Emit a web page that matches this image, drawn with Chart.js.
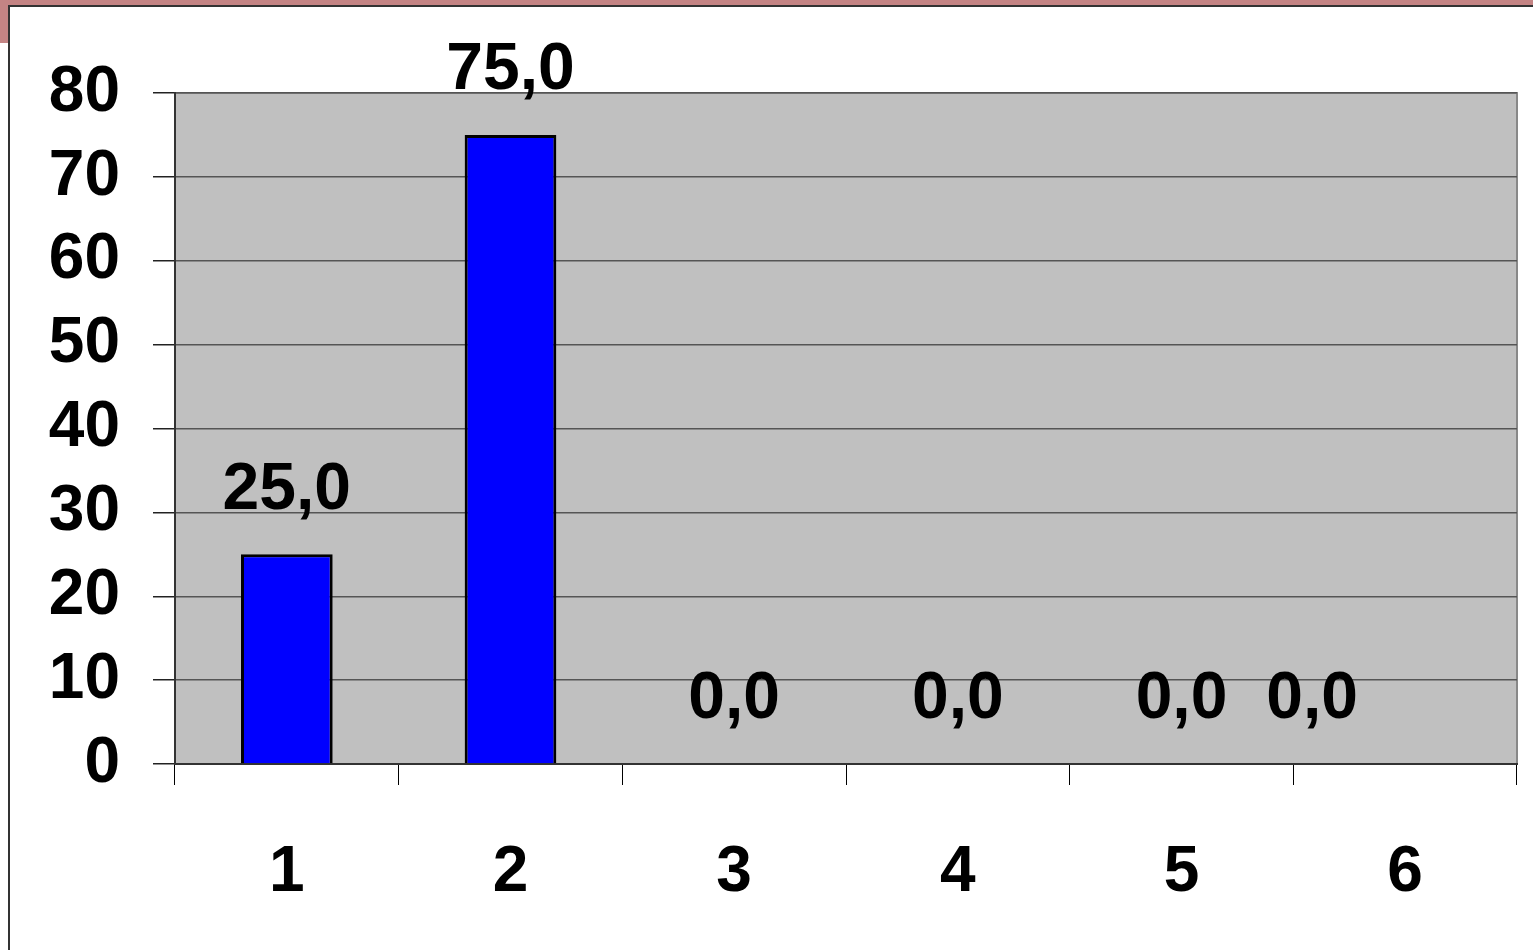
<!DOCTYPE html>
<html>
<head>
<meta charset="utf-8">
<script src="https://cdn.jsdelivr.net/npm/chart.js@4/dist/chart.umd.min.js"></script>
<style>
  body { margin: 0; background: #fff; width: 1533px; height: 950px; overflow: hidden; position: relative; }
  .band-top { position: absolute; left: 0; top: 0; width: 1533px; height: 5px; background: #c48484; }
  .band-left { position: absolute; left: 0; top: 0; width: 8px; height: 43px; background: #c48484; }
  .frame { position: absolute; left: 8px; top: 5px; width: 1525px; height: 945px; border-top: 2px solid #333; border-left: 2px solid #333; box-sizing: border-box; }
  #chart { position: absolute; left: 0; top: 0; }
</style>
</head>
<body>
<div class="band-top"></div>
<div class="band-left"></div>
<div class="frame"></div>
<canvas id="chart" width="1533" height="950"></canvas>
<script>
const categories = ['1', '2', '3', '4', '5', '6']
const values = [25, 75, 0, 0, 0, 0]
const yMin = 0
const yMax = 80
const yStep = 10

const font = { family: '"Liberation Sans", Arial, sans-serif', size: 64, weight: 'bold' }

// grey plot background and its frame
const plotBg = {
  id: 'plotBg',
  beforeDraw(chart) {
    const { ctx, chartArea: a } = chart
    ctx.save()
    ctx.fillStyle = '#c0c0c0'
    ctx.fillRect(a.left, a.top, a.right - a.left, a.bottom - a.top)
    ctx.strokeStyle = '#888'
    ctx.lineWidth = 2
    ctx.strokeRect(a.left, a.top, a.right - a.left, a.bottom - a.top)
    ctx.restore()
  }
}

// value labels above bars, "25,0" style
const valueLabels = {
  id: 'valueLabels',
  afterDatasetsDraw(chart, args, opts) {
    const { ctx } = chart
    const meta = chart.getDatasetMeta(0)
    ctx.save()
    ctx.font = 'bold 66px "Liberation Sans", Arial, sans-serif'
    ctx.fillStyle = '#000'
    ctx.textAlign = 'center'
    ctx.textBaseline = 'middle'
    meta.data.forEach((bar, i) => {
      const txt = values[i].toFixed(1).replace('.', ',')
      const dx = (opts.shift && opts.shift[i]) || 0
      ctx.fillText(txt, bar.x + dx, bar.y - 64)
    })
    ctx.restore()
  }
}

new Chart(document.querySelector('#chart'), {
  type: 'bar',
  data: {
    labels: categories,
    datasets: [{
      data: values,
      backgroundColor: '#0000ff',
      borderColor: '#000',
      borderWidth: 3,
      categoryPercentage: 1,
      barPercentage: 0.41
    }]
  },
  options: {
    responsive: false,
    animation: false,
    layout: { padding: { top: 93, right: 16, left: 0, bottom: 0 } },
    plugins: {
      legend: { display: false },
      tooltip: { enabled: false },
      valueLabels: { shift: { 5: -93 } }
    },
    scales: {
      x: {
        afterFit(scale) { scale.height = 186 },
        grid: { offset: true, drawOnChartArea: false, tickLength: 21, color: '#000', lineWidth: 1 },
        border: { color: '#333', width: 2 },
        ticks: { color: '#000', font: font, padding: 50, maxRotation: 0 }
      },
      y: {
        min: yMin,
        max: yMax,
        afterFit(scale) { scale.width = 175 },
        grid: { color: '#555', lineWidth: 1.5, tickLength: 22, tickColor: '#222' },
        border: { color: '#333', width: 2 },
        ticks: { stepSize: yStep, color: '#000', font: font, padding: 33 }
      }
    }
  },
  plugins: [plotBg, valueLabels]
})
</script>
</body>
</html>
